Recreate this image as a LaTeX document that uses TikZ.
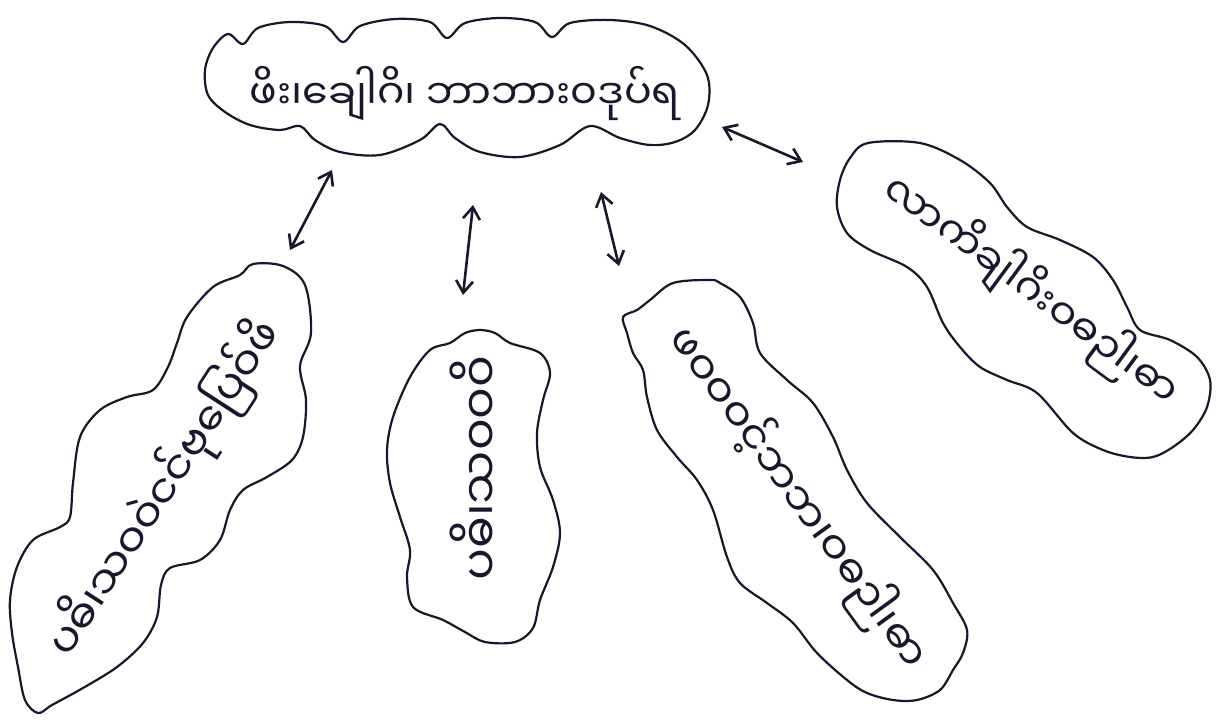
\documentclass[tikz,border=0pt]{standalone}
\usepackage{fontspec}
\newfontfamily\mmfont[Script=Myanmar]{Noto Sans Myanmar UI}
\usetikzlibrary{arrows.meta}
\definecolor{ink}{RGB}{24,24,42}
\newcommand\fitw[2]{\resizebox{#1}{!}{\mmfont #2}}
\begin{document}
\begin{tikzpicture}[x=1pt,y=-1pt,
  blob/.style={draw=ink,line width=2.2pt,line join=round},
  lbl/.style={inner sep=0pt,text=ink},
  link/.style={draw=ink,line width=2.6pt,line cap=round,{Straight Barb[length=12pt,width=17pt]}-{Straight Barb[length=12pt,width=17pt]}}]
\useasboundingbox (0,0) rectangle (1230,720);
\fill[white] (0,0) rectangle (1230,720);

% centre cloud
\draw[blob] plot[smooth cycle,tension=0.55] coordinates {
 (208,95) (205,70) (213,48) (228,34) (243,44) (258,28) (290,22) (325,26) (343,42)
 (360,26) (395,19) (430,22) (447,38) (465,23) (500,18) (535,22) (552,37) (570,23)
 (610,20) (650,26) (685,45) (707,75) (708,105) (695,130) (675,142) (650,145)
 (620,138) (590,126) (560,145) (520,157) (480,152) (455,138) (440,124) (420,140)
 (380,155) (340,152) (315,140) (300,126) (280,130) (250,125) (225,112)};

% left blob
\draw[blob] plot[smooth cycle,tension=0.55] coordinates {
 (240,275) (253,264) (283,266) (305,285) (311,333) (300,366) (306,400) (303,437)
 (292,460) (267,477) (243,490) (230,510) (220,540) (200,560) (170,568) (161,585)
 (157,617) (143,643) (117,667) (83,688) (52,705) (38,713) (25,700) (18,667)
 (12,633) (10,600) (17,567) (33,540) (60,527) (70,517) (73,483) (80,437)
 (100,410) (127,397) (153,390) (168,367) (177,343) (187,317) (213,287)};

% middle blob
\draw[blob] plot[smooth cycle,tension=0.55] coordinates {
 (430,350) (450,343) (465,333) (480,330) (495,333) (510,343) (540,353) (550,373)
 (543,400) (537,433) (540,467) (553,500) (560,533) (553,567) (540,600) (533,628)
 (515,642) (485,642) (465,632) (443,620) (413,607) (407,577) (410,550) (400,517)
 (390,483) (387,450) (393,417) (410,377)};

% right-bottom blob
\draw[blob] plot[smooth cycle,tension=0.55] coordinates {
 (623,317) (637,310) (650,300) (673,283) (710,280) (720,283) (740,297) (753,323)
 (760,353) (787,380) (813,403) (833,437) (847,470) (867,503) (900,537) (933,570)
 (953,603) (967,630) (963,653) (953,670) (940,690) (917,700) (893,700) (867,693)
 (847,680) (817,653) (793,623) (767,603) (740,583) (727,557) (713,510) (697,480)
 (677,457) (657,430) (647,397) (643,370) (633,353) (627,333)};

% right blob
\draw[blob] plot[smooth cycle,tension=0.55] coordinates {
 (850,158) (868,143) (920,143) (960,160) (990,183) (1007,207) (1027,227) (1060,240)
 (1093,257) (1113,280) (1127,307) (1140,330) (1170,340) (1197,357) (1210,380)
 (1207,407) (1193,430) (1173,447) (1153,457) (1130,457) (1103,450) (1073,433)
 (1037,393) (1007,380) (980,367) (960,347) (943,323) (927,287) (907,267)
 (870,250) (847,233) (837,207) (840,180)};

% labels
\node[lbl] (main) at (465,93) {\fitw{430pt}{ဖိး၊ချေါဂိ၊ ဘာဘား၀ဒုပ်ရ}};
\node[lbl,rotate=57] (nleft) at (165,489) {\fitw{390pt}{ပဓိ၊သဝဝဲငင်ဗုပြေဝ်ဖိ}};
\node[lbl,rotate=90] (nmid) at (475,468) {\fitw{225pt}{ပဓိ၊သဝဝဝိ}};
\node[lbl,rotate=-54] (nrb) at (798,498) {\fitw{410pt}{ဖဝဝဝင့်ဘဘ၊ဝဓဉါ၊ဓာ}};
\node[lbl,rotate=-36.4] (nright) at (1031,290) {\fitw{355pt}{လာကိချါဂိးဝဓဉါ၊ဓာ}};

% connectors
\coordinate (a1s) at (332,170); \coordinate (a1e) at (290,250);
\coordinate (a2s) at (473,205); \coordinate (a2e) at (463,295);
\coordinate (a3s) at (601,192); \coordinate (a3e) at (619,266);
\coordinate (a4s) at (722,127); \coordinate (a4e) at (803,162);
\draw[link] (a1s) -- (a1e);
\draw[link] (a2s) -- (a2e);
\draw[link] (a3s) -- (a3e);
\draw[link] (a4s) -- (a4e);
\end{tikzpicture}
\end{document}
